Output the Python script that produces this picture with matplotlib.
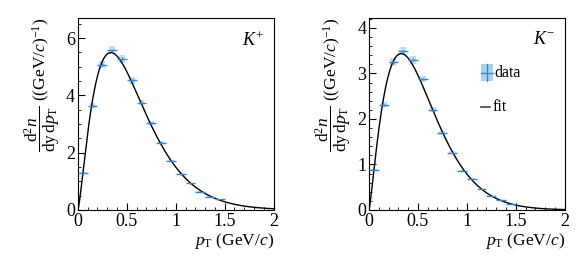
import numpy as np
import matplotlib
matplotlib.use("Agg")
import matplotlib.pyplot as plt
from matplotlib.patches import Rectangle
from matplotlib.ticker import MultipleLocator

plt.rcParams['font.family'] = ['Liberation Serif', 'DejaVu Serif']
plt.rcParams['mathtext.fontset'] = 'custom'
plt.rcParams['mathtext.rm'] = 'Liberation Serif'
plt.rcParams['mathtext.it'] = 'Liberation Serif:italic'
plt.rcParams['mathtext.bf'] = 'Liberation Serif:bold'

# bin centres (GeV/c), bin width 0.1
pt = [0.05, 0.15, 0.25, 0.35, 0.45, 0.55, 0.65, 0.75,
      0.85, 0.95, 1.05, 1.15, 1.25, 1.35, 1.45]

kplus = [1.28, 3.64, 5.07, 5.57, 5.27, 4.52, 3.75, 3.03,
         2.35, 1.71, 1.25, 0.93, 0.64, 0.47, 0.37]
kminus = [0.88, 2.31, 3.25, 3.49, 3.30, 2.88, 2.20, 1.70,
          1.26, 0.86, 0.68, 0.46, 0.31, 0.22, 0.13]

labels = [r'$K^{+}$', r'$K^{-}$']
ylims = [6.7, 4.22]
ymajor = [2, 1]
yminor = [0.5, 0.2]

blue = '#3a86c8'
band = '#c2dcef'


def fit_curve(x, y, xs):
    # log f = c0 + c1 log x + c2 x + c3 x^2
    x = np.asarray(x)
    y = np.asarray(y)
    A = np.column_stack([np.ones_like(x), np.log(x), x, x**2])
    c, *_ = np.linalg.lstsq(A, np.log(y), rcond=None)
    B = np.column_stack([np.ones_like(xs), np.log(xs), xs, xs**2])
    return np.exp(B @ c)


fig = plt.figure(figsize=(5.81, 2.72), dpi=100)
axes = [fig.add_axes([0.134, 0.228, 0.337, 0.706]),
        fig.add_axes([0.635, 0.228, 0.337, 0.706])]

xs = np.linspace(0.001, 2.0, 400)
ylab = (r'$\dfrac{\mathrm{d}^{2}n}{\mathrm{dy\,d}p_{\mathrm{T}}}$'
        r' ((GeV/$c$)$^{-1}$)')

for i, (ax, vals) in enumerate(zip(axes, [kplus, kminus])):
    vals = np.asarray(vals)
    for x, v in zip(pt, vals):
        ax.add_patch(Rectangle((x - 0.03, v * 0.975), 0.06, v * 0.05,
                               facecolor=band, edgecolor='none', zorder=1))
    ax.plot(xs, fit_curve(pt, vals, xs), color='black', lw=1.0, zorder=2)
    ax.errorbar(pt, vals, xerr=0.05, yerr=vals * 0.01, fmt='none',
                ecolor=blue, elinewidth=1.0, zorder=3)

    ax.set_xlim(0, 2)
    ax.set_ylim(0, ylims[i])
    ax.xaxis.set_major_locator(MultipleLocator(0.5))
    ax.xaxis.set_minor_locator(MultipleLocator(0.1))
    ax.yaxis.set_major_locator(MultipleLocator(ymajor[i]))
    ax.yaxis.set_minor_locator(MultipleLocator(yminor[i]))
    ax.set_xticks([0, 0.5, 1, 1.5, 2])
    ax.set_xticklabels(['0', '0.5', '1', '1.5', '2'])
    ax.tick_params(which='major', direction='in', length=5, width=0.8,
                   labelsize=13, pad=2)
    ax.tick_params(which='minor', direction='in', length=2.5, width=0.6)
    for s in ax.spines.values():
        s.set_linewidth(0.8)

    ax.text(0.95, 0.93, labels[i], transform=ax.transAxes,
            ha='right', va='top', fontsize=13)
    ax.set_xlabel(r'$p_{\mathrm{T}}$ (GeV/$c$)', fontsize=12.5, loc='right', labelpad=1)
    ax.set_ylabel(ylab, fontsize=12.5, loc='top', labelpad=3)

# legend in the right panel
ax = axes[1]
ax.add_patch(Rectangle((1.14, 2.84), 0.13, 0.36, facecolor='#a9cfea',
                       edgecolor='none', zorder=1))
ax.plot([1.14, 1.27], [3.02, 3.02], color=blue, lw=1.0)
ax.plot([1.205, 1.205], [2.84, 3.20], color=blue, lw=1.0)
ax.text(1.28, 3.02, 'data', fontsize=11.5, va='center')
ax.plot([1.14, 1.24], [2.27, 2.27], color='#444444', lw=1.2)
ax.text(1.26, 2.27, 'fit', fontsize=11.5, va='center')

fig.savefig('out.png', dpi=100)
